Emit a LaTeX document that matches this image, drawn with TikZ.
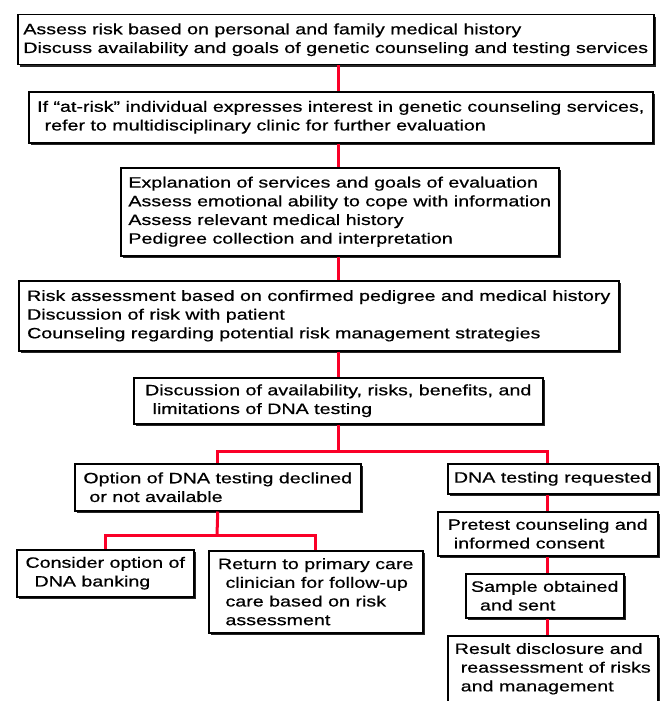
\documentclass[tikz,border=0pt]{standalone}
\usepackage{fontspec}
\setmainfont{Liberation Sans}[FakeStretch=1.31, FakeBold=0.6]
\usepackage{tikz}
\usetikzlibrary{positioning}
\usetikzlibrary{shadows}
\definecolor{linkred}{RGB}{250,0,40}

\begin{document}
\begin{tikzpicture}[x=1pt, y=-1pt, thick,
    box/.style={draw=black, line width=1.5pt, fill=white, align=left,
      anchor=north west, inner sep=0pt,
      font=\fontsize{15}{18.7}\selectfont,
      drop shadow={shadow xshift=2.5pt, shadow yshift=-2.5pt,
        fill=black!85, opacity=1}},
    link/.style={draw=linkred, line width=3pt}]
    \useasboundingbox (0,0) rectangle (659,701);
    \fill[white] (0,0) rectangle (659,701);

    \node (history) [box, minimum width=636pt, minimum height=50pt] at (17,14)
      {Assess risk based on personal and family medical history\\
       Discuss availability and goals of genetic counseling and testing services};
    \node (refer) [box, minimum width=624pt, minimum height=51pt] at (28,91)
      {If ``at-risk'' individual expresses interest in genetic counseling services,\\
       \hspace*{.5em}refer to multidisciplinary clinic for further evaluation};
    \node (explain) [box, minimum width=438pt, minimum height=88pt] at (120,167)
      {Explanation of services and goals of evaluation\\
       Assess emotional ability to cope with information\\
       Assess relevant medical history\\
       Pedigree collection and interpretation};
    \node (confirm) [box, minimum width=600pt, minimum height=70pt] at (18,280)
      {Risk assessment based on confirmed pedigree and medical history\\
       Discussion of risk with patient\\
       Counseling regarding potential risk management strategies};
    \node (discuss) [box, minimum width=409pt, minimum height=46pt] at (133,377)
      {Discussion of availability, risks, benefits, and\\
       \hspace*{.5em}limitations of DNA testing};
    \node (declined) [box, minimum width=286pt, minimum height=47pt] at (74,463)
      {Option of DNA testing declined\\
       \hspace*{.4em}or not available};
    \node (requested) [box, minimum width=210pt, minimum height=30pt] at (447,463)
      {DNA testing requested};
    \node (banking) [box, minimum width=177pt, minimum height=47pt] at (16,549)
      {Consider option of\\
       \hspace*{.6em}DNA banking};
    \node (primary) [box, minimum width=214pt, minimum height=82pt] at (208,550)
      {Return to primary care\\
       \hspace*{.5em}clinician for follow-up\\
       \hspace*{.5em}care based on risk\\
       \hspace*{.5em}assessment};
    \node (pretest) [box, minimum width=220pt, minimum height=44pt] at (437,511)
      {Pretest counseling and\\
       \hspace*{.4em}informed consent};
    \node (sample) [box, minimum width=158pt, minimum height=44pt] at (465,573)
      {Sample obtained\\
       \hspace*{.6em}and sent};
    \node (result) [box, minimum width=210pt, minimum height=66pt] at (447,635)
      {Result disclosure and\\
       \hspace*{.4em}reassessment of risks\\
       \hspace*{.4em}and management};

    \coordinate (spine) at (338,0);
    \coordinate (rightcol) at (547,0);
    \coordinate (split) at (338,451);
    \coordinate (fork) at (217,535);

    \draw[link] (history.south -| spine) -- (refer.north -| spine);
    \draw[link] (refer.south -| spine) -- (explain.north -| spine);
    \draw[link] (explain.south -| spine) -- (confirm.north -| spine);
    \draw[link] (confirm.south -| spine) -- (discuss.north -| spine);
    \draw[link] (discuss.south -| spine) -- (split);
    \draw[link] (split) -| (declined.north);
    \draw[link] (split) -| (requested.north -| rightcol);
    \draw[link] (declined.south) -- (fork);
    \draw[link] (fork) -| (banking.north);
    \draw[link] (fork) -| (primary.north);
    \draw[link] (requested.south -| rightcol) -- (pretest.north -| rightcol);
    \draw[link] (pretest.south -| rightcol) -- (sample.north -| rightcol);
    \draw[link] (sample.south -| rightcol) -- (result.north -| rightcol);
  \end{tikzpicture}
\end{document}
